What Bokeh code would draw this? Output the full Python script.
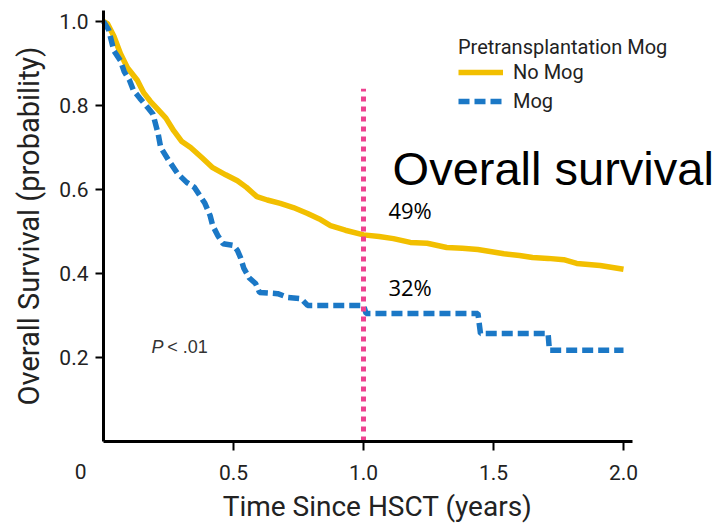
from bokeh.plotting import figure
from bokeh.models import Range1d, Label, Legend, LegendItem, FixedTicker
from bokeh.embed import file_html
from bokeh.resources import INLINE

# Kaplan-Meier overall survival estimates (time in years since HSCT)
no_mog_time = [0.0, 0.015, 0.04, 0.065, 0.092, 0.13, 0.155, 0.18, 0.21, 0.24, 0.27,
               0.30, 0.335, 0.38, 0.42, 0.47, 0.515, 0.55, 0.59, 0.63, 0.68, 0.73,
               0.785, 0.83, 0.873, 0.93, 1.0, 1.06, 1.115, 1.18, 1.245, 1.32, 1.38,
               1.44, 1.54, 1.60, 1.65, 1.71, 1.77, 1.82, 1.91, 2.0]
no_mog_surv = [1.0, 0.995, 0.965, 0.924, 0.89, 0.86, 0.83, 0.81, 0.79, 0.77, 0.74,
               0.715, 0.70, 0.675, 0.652, 0.635, 0.621, 0.605, 0.583, 0.575, 0.567, 0.557,
               0.543, 0.53, 0.514, 0.503, 0.492, 0.488, 0.483, 0.474, 0.472, 0.462, 0.46,
               0.457, 0.447, 0.443, 0.438, 0.436, 0.433, 0.424, 0.419, 0.41]

mog_time = [0.0, 0.02, 0.04, 0.065, 0.08, 0.10, 0.115, 0.14, 0.17, 0.19, 0.21, 0.22,
            0.25, 0.285, 0.32, 0.35, 0.39, 0.41, 0.42, 0.44, 0.46, 0.50, 0.515, 0.527,
            0.54, 0.56, 0.585, 0.60, 0.67, 0.71, 0.76, 0.785, 1.0, 1.01, 1.44, 1.45,
            1.71, 1.715, 2.0]
mog_surv = [1.0, 0.98, 0.93, 0.907, 0.88, 0.86, 0.836, 0.817, 0.795, 0.78, 0.733, 0.70,
            0.67, 0.638, 0.617, 0.605, 0.567, 0.538, 0.514, 0.49, 0.471, 0.467, 0.455, 0.438,
            0.412, 0.39, 0.376, 0.355, 0.352, 0.343, 0.34, 0.324, 0.324, 0.305, 0.305, 0.257,
            0.257, 0.217, 0.217]

landmark_year = 1.0
landmark_top = 0.84
landmark_labels = ["49%", "32%"]
x_ticks = [0.5, 1.0, 1.5, 2.0]
y_ticks = [0.2, 0.4, 0.6, 0.8, 1.0]

YELLOW = "#f2bf00"
BLUE = "#1b78c6"
PINK = "#ee4290"
TEXT = "#222222"
AXIS_FONT = "Roboto"

# The frame spans the whole canvas; axes are pinned at the data origin so that
# annotations to the right of the x axis end are not clipped.
p = figure(width=722, height=523, output_backend="svg", toolbar_location=None,
           x_range=Range1d(-103 / 260, 619 / 260), y_range=Range1d(-82 / 420, 441 / 420),
           min_border=0, min_border_left=0, min_border_right=0,
           min_border_top=0, min_border_bottom=0)
p.title.visible = False
p.outline_line_color = None
p.xgrid.visible = False
p.ygrid.visible = False
p.background_fill_color = "white"
p.border_fill_color = "white"

for ax in (p.xaxis[0], p.yaxis[0]):
    ax.fixed_location = 0
    ax.axis_line_width = 3
    ax.axis_line_color = "black"
    ax.major_tick_line_width = 2
    ax.major_tick_line_color = "black"
    ax.major_tick_in = 0
    ax.minor_tick_line_color = None
    ax.major_label_text_font = AXIS_FONT
    ax.major_label_text_font_size = "21px"
    ax.major_label_text_color = TEXT
    ax.axis_label_text_font = AXIS_FONT
    ax.axis_label_text_font_style = "normal"
    ax.axis_label_text_color = TEXT

p.xaxis.bounds = (0, 2.034)
p.yaxis.bounds = (0, 1.026)
p.xaxis.ticker = FixedTicker(ticks=x_ticks)
p.yaxis.ticker = FixedTicker(ticks=y_ticks)
p.xaxis.major_label_overrides = {t: f"{t:.1f}" for t in x_ticks}
p.yaxis.major_label_overrides = {t: f"{t:.1f}" for t in y_ticks}
p.xaxis.major_tick_out = 9
p.yaxis.major_tick_out = 8
p.xaxis.major_label_standoff = 14
p.yaxis.major_label_standoff = 7
p.yaxis.axis_label = "Overall Survival (probability)"
p.yaxis.axis_label_text_font_size = "29px"
p.yaxis.axis_label_standoff = 10

# x axis title, centred a little right of the axis midpoint
p.add_layout(Label(x=1.054, y=-0.155, text="Time Since HSCT (years)",
                   text_align="center", text_baseline="middle", text_font=AXIS_FONT,
                   text_font_size="28px", text_color=TEXT))

r_no = p.line(no_mog_time, no_mog_surv, line_color=YELLOW, line_width=5.5)
r_mog = p.line(mog_time, mog_surv, line_color=BLUE, line_width=5.5, line_dash="11 5")

# one-year landmark
p.segment(x0=[landmark_year], y0=[0.0], x1=[landmark_year], y1=[landmark_top],
          line_color=PINK, line_width=5, line_dash="5 5")

legend = Legend(items=[LegendItem(label="No Mog", renderers=[r_no]),
                       LegendItem(label="Mog", renderers=[r_mog])],
                title="Pretransplantation Mog", location=(458, 410),
                border_line_color=None, background_fill_alpha=0,
                padding=0, margin=0, glyph_width=45, glyph_height=20,
                label_height=20, spacing=5, label_standoff=10, title_standoff=1,
                label_text_font=AXIS_FONT, label_text_font_size="20px",
                label_text_color=TEXT, title_text_font=AXIS_FONT,
                title_text_font_size="20px", title_text_font_style="normal",
                title_text_color=TEXT)
p.add_layout(legend)

# origin label sits left of the axis corner
p.add_layout(Label(x=-0.088, y=-0.072, text="0", text_align="center",
                   text_baseline="middle", text_font=AXIS_FONT,
                   text_font_size="21px", text_color=TEXT))

p.add_layout(Label(x=1.112, y=0.651, text="Overall survival", text_align="left",
                   text_baseline="middle", text_font="Liberation Sans",
                   text_font_size="47px", text_color="black"))

p.add_layout(Label(x=1.096, y=0.551, text=landmark_labels[0], text_baseline="middle",
                   text_font="Open Sans", text_font_size="22px", text_color="black"))
p.add_layout(Label(x=1.096, y=0.369, text=landmark_labels[1], text_baseline="middle",
                   text_font="Open Sans", text_font_size="22px", text_color="black"))

p.add_layout(Label(x=0.185, y=0.225, text="P", text_baseline="middle",
                   text_font="Liberation Sans", text_font_style="italic",
                   text_font_size="18px", text_color="#333333"))
p.add_layout(Label(x=0.245, y=0.225, text="< .01", text_baseline="middle",
                   text_font="Liberation Sans", text_font_size="18px",
                   text_color="#333333"))

open("out.html", "w").write(file_html(p, INLINE))
